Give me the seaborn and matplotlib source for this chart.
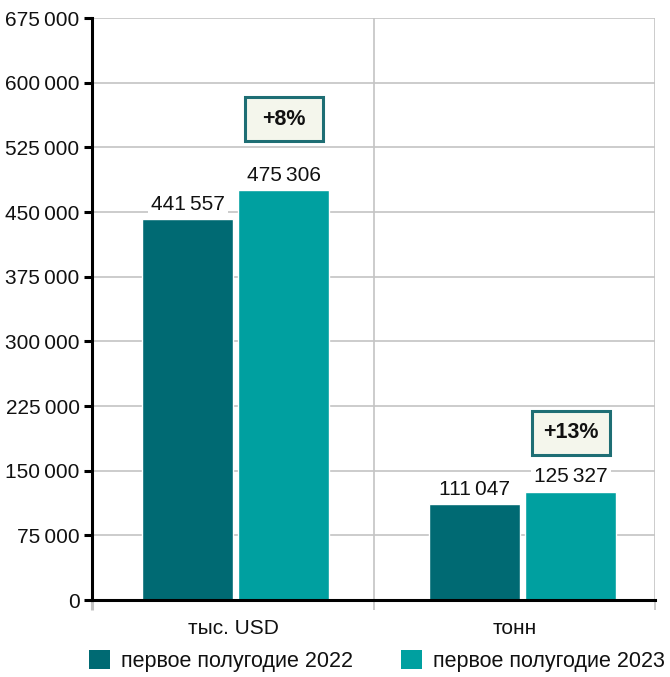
import matplotlib
matplotlib.use("Agg")
import matplotlib.pyplot as plt
from matplotlib.patches import Rectangle
import seaborn as sns
import pandas as pd

# Export data: first half of 2022 vs first half of 2023
categories = ["тыс. USD", "тонн"]
series_names = ["первое полугодие 2022", "первое полугодие 2023"]
values_2022 = [441557, 111047]
values_2023 = [475306, 125327]
growth_labels = ["+8%", "+13%"]
y_ticks = [0, 75000, 150000, 225000, 300000, 375000, 450000, 525000, 600000, 675000]

DARK = "#006A73"
LIGHT = "#00A0A0"
GRID = "#C4C4C4"

sns.set_theme(style="white")
plt.rcParams["font.family"] = ["Liberation Sans Narrow", "Liberation Sans", "DejaVu Sans"]

def fmt(v):
    return f"{v:,}".replace(",", "\u2009")

df = pd.DataFrame({
    "category": categories * 2,
    "series": [series_names[0]] * 2 + [series_names[1]] * 2,
    "value": values_2022 + values_2023,
})

fig = plt.figure(figsize=(6.70, 6.77), dpi=100)
ax = fig.add_axes([92 / 670, 1 - 600 / 677, 563 / 670, 582 / 677])

sns.barplot(data=df, x="category", y="value", hue="series",
            palette=[DARK, LIGHT], width=0.668, gap=0.05,
            saturation=1, ax=ax, legend=False, zorder=3)

x_left, x_right = -0.5, 1.46
separator = 0.482
ax.set_xlim(x_left, x_right)
ax.set_ylim(0, 675000)
ax.set_yticks(y_ticks)
ax.set_yticklabels([fmt(t) for t in y_ticks])
ax.set_xlabel("")
ax.set_ylabel("")

# category labels sit in the middle of each grid cell
cell_edges = [x_left, separator, x_right]
ax.set_xticks([(cell_edges[i] + cell_edges[i + 1]) / 2 for i in range(2)])
ax.set_xticklabels(categories)

# horizontal grid + category separators
for t in y_ticks[1:]:
    ax.axhline(t, color=GRID, lw=1.2, zorder=1)
for xv in [separator, x_right]:
    ax.axvline(xv, color=GRID, lw=1.2, zorder=1)

for side in ["top", "right"]:
    ax.spines[side].set_visible(False)
for side in ["left", "bottom"]:
    ax.spines[side].set_color("black")
    ax.spines[side].set_linewidth(2.2)
    ax.spines[side].set_zorder(5)

ax.tick_params(axis="y", which="major", left=True, length=6, width=2.2,
               color="black", labelsize=15, pad=3, labelcolor="#111111")
ax.tick_params(axis="x", which="major", bottom=False, labelsize=15, pad=8,
               labelcolor="#111111")
ax.set_xticks(cell_edges, minor=True)
ax.tick_params(axis="x", which="minor", bottom=True, length=7, width=1.2,
               color=GRID)
ax.xaxis.get_minor_ticks()[0].tick1line.set_color("black")
ax.xaxis.get_minor_ticks()[0].tick1line.set_markeredgewidth(2.2)

# value labels above bars
for container, vals in zip(ax.containers, [values_2022, values_2023]):
    for bar, v in zip(container, vals):
        cx = bar.get_x() + bar.get_width() / 2
        ax.annotate(fmt(v), (cx, v), xytext=(0, 4), textcoords="offset points",
                    ha="center", va="bottom", fontsize=15, color="#111111",
                    zorder=6,
                    bbox=dict(boxstyle="square,pad=0.15", fc="white", ec="none"))

# growth boxes above the 2023 bars
box_w = 0.272
box_h = 51000
box_offsets = [82000, 68500]
for bar, v, lab, off in zip(ax.containers[1], values_2023, growth_labels, box_offsets):
    cx = bar.get_x() + bar.get_width() / 2
    cy = v + off
    ax.add_patch(Rectangle((cx - box_w / 2, cy - box_h / 2), box_w, box_h,
                           fc="#F4F6EC", ec="#1E6E74", lw=2.2, zorder=6))
    ax.text(cx, cy, lab, ha="center", va="center", fontsize=15.5,
            fontweight="bold", color="#111111", zorder=7)

handles = [Rectangle((0, 0), 1, 1, fc=DARK, ec="none"),
           Rectangle((0, 0), 1, 1, fc=LIGHT, ec="none")]
fig.legend(handles, series_names, loc="center", bbox_to_anchor=(0.5625, 1 - 661 / 677),
           ncol=2, frameon=False, fontsize=15.5, handlelength=1.0, handleheight=1.0,
           handletextpad=0.5, columnspacing=2.2, labelcolor="#111111",
           borderpad=0, borderaxespad=0)

fig.savefig("out.png", dpi=100)
